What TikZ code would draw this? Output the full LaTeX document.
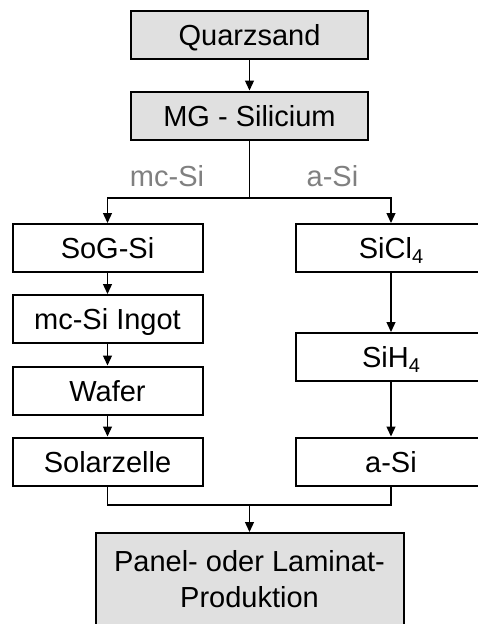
\documentclass[tikz,border=0pt]{standalone}
\usepackage{fontspec}
\setmainfont{Liberation Sans}
\usetikzlibrary{arrows.meta}
\definecolor{boxgray}{HTML}{E0E0E0}
\definecolor{labgray}{HTML}{808080}
\newcommand{\subfour}{\raisebox{-5pt}{\fontsize{20}{20}\selectfont 4}}
\begin{document}
\begin{tikzpicture}[x=1pt,y=-1pt,
  boxfont/.style={font=\fontsize{29}{36}\selectfont},
  box/.style={draw=black, line width=2pt, minimum width=190pt, minimum height=48pt,
    inner sep=0pt, text height=21pt, text depth=0pt, boxfont},
  graybox/.style={box, fill=boxgray, minimum width=237pt},
  conn/.style={line width=1.3pt},
  arr/.style={conn, -{Triangle[width=9pt,length=10pt]}},
  lab/.style={text=labgray, boxfont, inner sep=0pt, text height=21pt, text depth=0pt}]
\path[use as bounding box, clip] (0,0) rectangle (478,624);
% top
\node[graybox] (Q) at (249.5,35) {Quarzsand};
\node[graybox] (MG) at (249.5,115.5) {MG - Silicium};
\coordinate (split) at (249.5,198);
\node[lab] (lmc) at (167,176) {mc-Si};
\node[lab] (las) at (332.5,176) {a-Si};
% left column
\node[box] (SoG) at (107.5,248) {SoG-Si};
\node[box] (Ingot) at (107.5,319) {mc-Si Ingot};
\node[box] (Wafer) at (107.5,390.5) {Wafer};
\node[box] (Solar) at (107.5,461.5) {Solarzelle};
% right column
\node[box] (SiCl) at (391,248) {SiCl\subfour};
\node[box] (SiH) at (391,357) {SiH\subfour};
\node[box] (aSi) at (391,461.5) {a-Si};
% bottom
\coordinate (merge) at (249.5,505);
\node[draw=black, line width=2pt, fill=boxgray, anchor=north, inner sep=0pt,
  minimum width=308pt, boxfont] (Panel) at (249.5,532)
  {\parbox[b][130pt][t]{300pt}{\centering\rule{0pt}{38pt}Panel- oder Laminat-\\Produktion}};
% connectors
\draw[arr] (Q) -- (MG);
\draw[conn] (MG) -- (split);
\draw[arr] (split) -| (SoG);
\draw[arr] (split) -| (SiCl);
\draw[arr] (SoG) -- (Ingot);
\draw[arr] (Ingot) -- (Wafer);
\draw[arr] (Wafer) -- (Solar);
\draw[arr] (SiCl) -- (SiH);
\draw[arr] (SiH) -- (aSi);
\draw[conn] (Solar.south) |- (merge) -| (aSi.south);
\draw[arr] (merge) -- (Panel.north);
\end{tikzpicture}
\end{document}
